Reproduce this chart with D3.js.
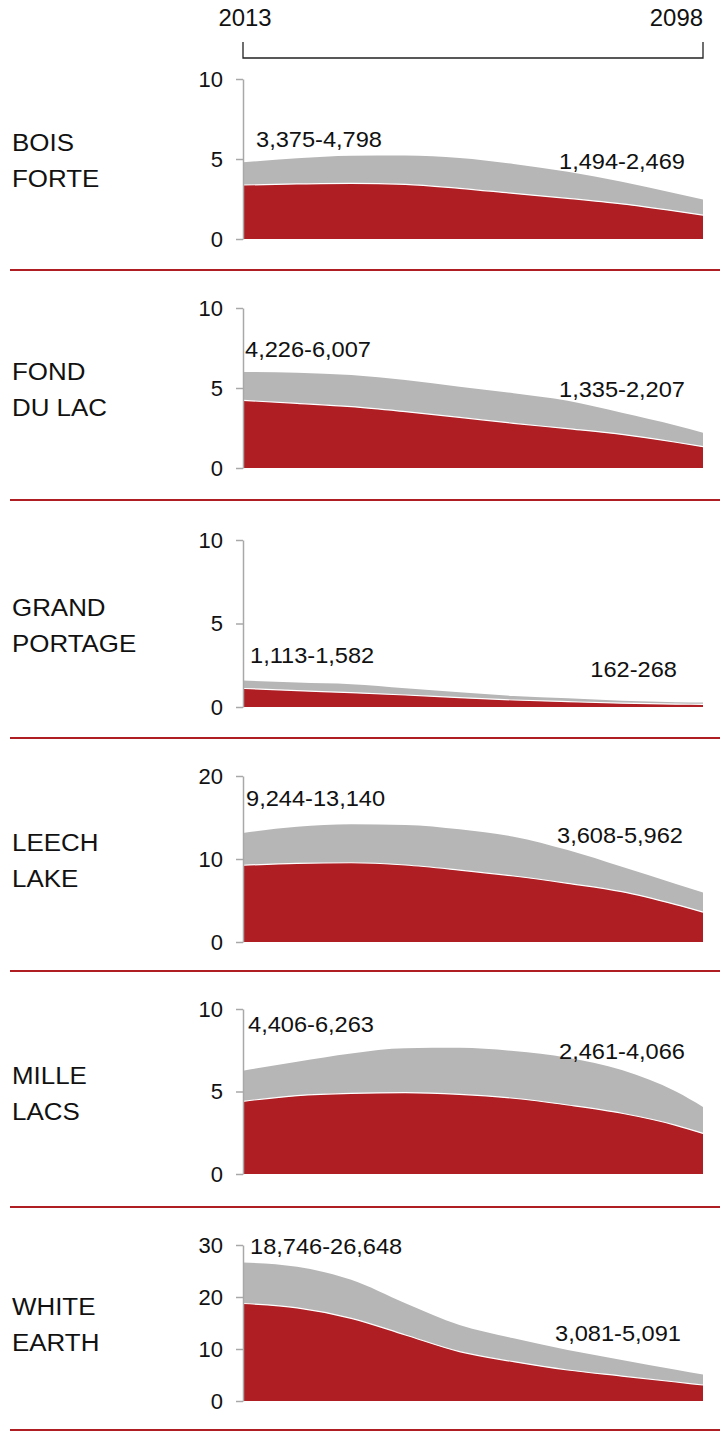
<!DOCTYPE html>
<html>
<head>
<meta charset="utf-8">
<script src="https://cdn.jsdelivr.net/npm/d3@7"></script>
<style>
  body { margin: 0; background: #fff; }
  svg text { font-family: "Liberation Sans", Arial, sans-serif; fill: #111; }
</style>
</head>
<body>
<div id="chart"></div>
<script>
// values in thousands of people, lower (red) and upper (gray) projections
var years = [2013, 2023, 2033, 2043, 2053, 2063, 2073, 2083, 2093, 2098];
var bands = ["BOIS FORTE", "FOND DU LAC", "GRAND PORTAGE", "LEECH LAKE", "MILLE LACS", "WHITE EARTH"];
var labelLines = [["BOIS", "FORTE"], ["FOND", "DU LAC"], ["GRAND", "PORTAGE"], ["LEECH", "LAKE"], ["MILLE", "LACS"], ["WHITE", "EARTH"]];

var lowBois   = [3.375, 3.44, 3.48, 3.42, 3.17, 2.85, 2.54, 2.19, 1.74, 1.494];
var highBois  = [4.798, 5.04, 5.20, 5.22, 5.06, 4.69, 4.20, 3.58, 2.84, 2.469];
var lowFond   = [4.226, 4.04, 3.83, 3.52, 3.17, 2.79, 2.46, 2.10, 1.61, 1.335];
var highFond  = [6.007, 5.96, 5.81, 5.50, 5.08, 4.67, 4.20, 3.45, 2.66, 2.207];
var lowGrand  = [1.113, 0.98, 0.86, 0.72, 0.56, 0.42, 0.32, 0.23, 0.17, 0.162];
var highGrand = [1.582, 1.46, 1.36, 1.12, 0.88, 0.66, 0.52, 0.38, 0.29, 0.268];
var lowLeech  = [9.244, 9.48, 9.55, 9.28, 8.67, 7.95, 7.07, 6.06, 4.50, 3.608];
var highLeech = [13.140, 13.89, 14.18, 14.10, 13.58, 12.69, 11.08, 9.07, 7.00, 5.962];
var lowMille  = [4.406, 4.75, 4.89, 4.93, 4.83, 4.59, 4.18, 3.68, 2.95, 2.461];
var highMille = [6.263, 6.81, 7.31, 7.62, 7.65, 7.45, 7.05, 6.30, 5.00, 4.066];
var lowWhite  = [18.746, 17.9, 15.9, 12.7, 9.5, 7.56, 5.96, 4.8, 3.65, 3.081];
var highWhite = [26.648, 25.8, 23.3, 18.8, 14.6, 12.06, 9.8, 7.9, 6.0, 5.091];

var lows  = [lowBois, lowFond, lowGrand, lowLeech, lowMille, lowWhite];
var highs = [highBois, highFond, highGrand, highLeech, highMille, highWhite];

var yMax  = [10, 10, 10, 20, 10, 30];
var yTicks = [[0, 5, 10], [0, 5, 10], [0, 5, 10], [0, 10, 20], [0, 5, 10], [0, 10, 20, 30]];
var startText = ["3,375-4,798", "4,226-6,007", "1,113-1,582", "9,244-13,140", "4,406-6,263", "18,746-26,648"];
var endText   = ["1,494-2,469", "1,335-2,207", "162-268", "3,608-5,962", "2,461-4,066", "3,081-5,091"];

// layout (pixels)
var W = 722, H = 1431;
var panelTop = [79, 308, 540, 776, 1009, 1245];
var panelBot = [239, 468, 707, 942, 1174, 1401];
var dividerY = [270, 500, 738, 971, 1207, 1430];
var startPos = [[256, 147], [245, 357], [250, 663], [246, 806], [248, 1032], [250, 1254]];
var endPos   = [[685, 169], [685, 397], [677, 677], [683, 843], [685, 1059], [681, 1341]];

var red = "#ae1e23", gray = "#b6b6b6", axisGray = "#a8a8a8";

var svg = d3.select("#chart").append("svg")
    .attr("width", W)
    .attr("height", H);

// glyphs in the reference are slightly wider than Arial, so stretch a bit
function addText(sel, tx, ty, txt, size, sx, anchor) {
  return sel.append("text")
      .attr("transform", "translate(" + tx + "," + ty + ") scale(" + sx + ",1)")
      .attr("text-anchor", anchor || "start")
      .style("font-size", size + "px")
      .text(txt);
}

var x = d3.scaleLinear().domain([2013, 2098]).range([243, 703]);

// top bracket
var header = svg.append("g");
header.append("path")
    .attr("d", "M" + x(2013) + ",42V58H" + x(2098) + "V42")
    .attr("fill", "none")
    .attr("stroke", "#222")
    .attr("stroke-width", 1.3);
addText(header, x(2013) + 2, 26, years[0], 23, 1.04, "middle");
addText(header, x(2098), 26, years[years.length - 1], 23, 1.04, "end");

bands.forEach(function(name, i) {
  var g = svg.append("g").attr("class", "band");

  var y = d3.scaleLinear().domain([0, yMax[i]]).range([panelBot[i], panelTop[i]]);

  var rows = years.map(function(yr, j) {
    return {year: yr, low: lows[i][j], high: highs[i][j]};
  });

  var areaHigh = d3.area()
      .curve(d3.curveMonotoneX)
      .x(function(d) { return x(d.year); })
      .y0(y(0))
      .y1(function(d) { return y(d.high); });

  var areaLow = d3.area()
      .curve(d3.curveMonotoneX)
      .x(function(d) { return x(d.year); })
      .y0(y(0))
      .y1(function(d) { return y(d.low); });

  var lineLow = d3.line()
      .curve(d3.curveMonotoneX)
      .x(function(d) { return x(d.year); })
      .y(function(d) { return y(d.low); });

  g.append("path").datum(rows)
      .attr("d", areaHigh)
      .attr("fill", gray);

  g.append("path").datum(rows)
      .attr("d", areaLow)
      .attr("fill", red);

  g.append("path").datum(rows)
      .attr("d", lineLow)
      .attr("fill", "none")
      .attr("stroke", "#fff")
      .attr("stroke-width", 1.2);

  var yAxis = d3.axisLeft(y)
      .tickValues(yTicks[i])
      .tickSizeInner(7)
      .tickSizeOuter(0)
      .tickPadding(13);

  var ax = g.append("g")
      .attr("transform", "translate(" + x(2013) + ",0)")
      .call(yAxis);
  ax.select(".domain").attr("stroke", axisGray).attr("stroke-width", 1.5);
  ax.selectAll(".tick line").attr("stroke", axisGray).attr("stroke-width", 1.5);
  ax.selectAll(".tick text")
      .attr("fill", "#111")
      .style("font-family", "'Liberation Sans', Arial, sans-serif")
      .style("font-size", "22px");

  // band name
  var mid = (panelTop[i] + panelBot[i]) / 2;
  addText(g, 12, mid - 8, labelLines[i][0], 24, 1.08);
  addText(g, 12, mid + 28, labelLines[i][1], 24, 1.08);

  // range labels
  addText(g, startPos[i][0], startPos[i][1], startText[i], 22.5, 1.05);
  addText(g, endPos[i][0], endPos[i][1], endText[i], 22.5, 1.05, "end");

  svg.append("line")
      .attr("x1", 10).attr("x2", 720)
      .attr("y1", dividerY[i]).attr("y2", dividerY[i])
      .attr("stroke", red)
      .attr("stroke-width", 2);
});
</script>
</body>
</html>
